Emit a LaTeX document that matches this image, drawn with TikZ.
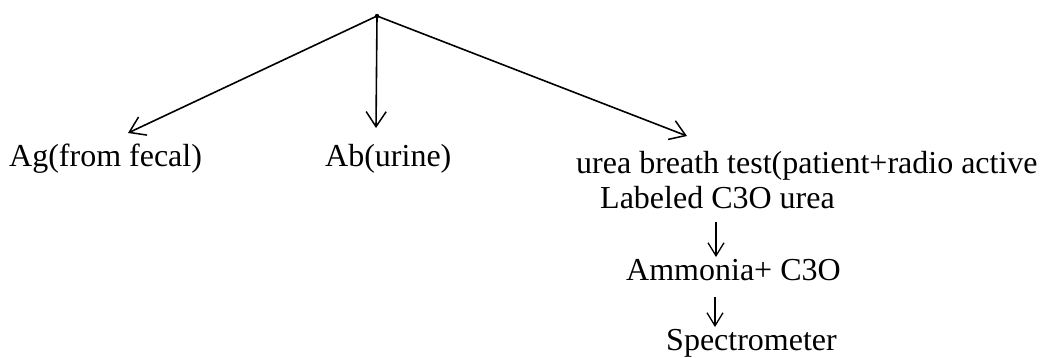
\documentclass[tikz,border=0pt]{standalone}
\usepackage{fontspec}
\setmainfont{Liberation Serif}
\usetikzlibrary{arrows.meta}
\tikzset{
  lbl/.style={anchor=base west, inner sep=0pt, font=\fontsize{32}{38}\selectfont},
  bigarrow/.style={line width=1.6pt, -{Straight Barb[length=15pt,width=20pt,line width=1.5pt]}},
  smallarrow/.style={line width=1.3pt, -{Straight Barb[length=13pt,width=16pt,line width=1.3pt]}},
}
\begin{document}
\begin{tikzpicture}[x=1pt,y=-1pt]
\useasboundingbox (0,0) rectangle (1041,358);
\fill[white] (0,0) rectangle (1041,358);
% root point
\coordinate (root) at (377,16);
\fill (root) circle (2.2pt);
% arrow ends
\coordinate (tagt) at (128,133);
\coordinate (tabt) at (376,128);
\coordinate (tubt) at (687,136);
\draw[bigarrow] (root) -- (tagt);
\draw[bigarrow] (root) -- (tabt);
\draw[bigarrow] (root) -- (tubt);
% labels
\node[lbl] (ag) at (9,167) {Ag(from fecal)};
\node[lbl] (ab) at (325,167) {Ab(urine)};
\node[lbl] (ubt) at (576,174) {urea breath test(patient+radio active};
\node[lbl] (lab) at (600,208) {Labeled C3O urea};
\node[lbl] (amm) at (626,280) {Ammonia+ C3O};
\node[lbl] (spec) at (666,350) {Spectrometer};
% small arrows
\coordinate (a1s) at (716,222);
\coordinate (a1e) at (716,257);
\coordinate (a2s) at (715,297);
\coordinate (a2e) at (715,327);
\draw[smallarrow] (a1s) -- (a1e);
\draw[smallarrow] (a2s) -- (a2e);
\end{tikzpicture}
\end{document}
